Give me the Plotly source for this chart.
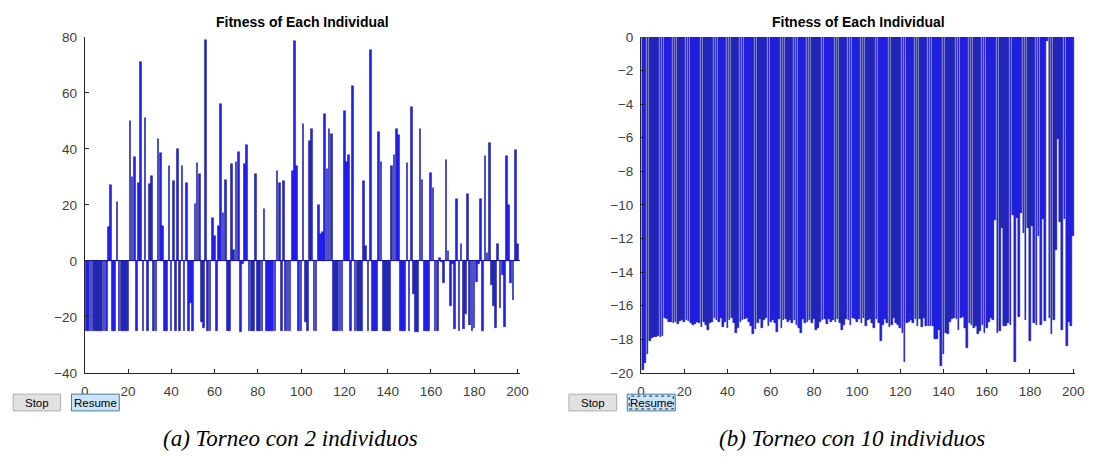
import plotly.graph_objects as go

W, H = 1098, 467

individuals = list(range(1, 201))

fitness_2 = [
    -25.2, -25.1, -25.2, -25.0, -25.2, -25.1, -25.2, -25.0, -25.1, -25.2,
    12, 27, -25, -25, 21, -25, -25, -25, -25, -25,
    50, 30, 37, -25, 28, 71, -25, 51, -25, 27.5,
    30.5, -25, -25, 43.5, 38.5, 12.5, -25, -25, 34, -25,
    28.5, -25, 40, -25, 34, -25, 28, -25, -15, -25,
    20.5, 35, 31, -22, -24, 79, -25, -25, 15.5, 9,
    -25, 12.5, 56, 17, 29, -25, -25, 34.5, 4, 35.5,
    39, -25.5, -1, 34.5, 41.5, -25, -25, -25, 31, -25,
    -25, -25, 18.5, -25, -25, -25, -25, -25, 32, 28,
    -25, 28.5, -25, -25, -25, 32, 78.5, 34, -25, -25,
    49, -22, -25, 43, 47, -25, -25, 20, 9.5, 10.5,
    52.5, 33, 47, 45.5, -25, -25, -25, -25, -25, 53.5,
    35.5, 38, -25, 62.5, -25, -25, -25, -25, 28.5, 5.5,
    -25, 75.5, -25, -25, -25, 46, 35.5, -25, -25, -25,
    -25, 34, 38, 47, 45, -25, -25, -25, 35, -25,
    55, -12, -25.5, -25.5, 47, 29, -25, -25, -25, 31.5,
    26, -25, -25, 1, -0.5, -8, 36, 3.5, -16, -1,
    -24.5, 22, -25, 6, -24.5, -19, 24, -23, -25, -24,
    -7.5, -1, 22, -25, 37.5, 3, 42, -8.5, -16, -24,
    6, -17, -5, -23.5, 37.5, 20, -8, -14, 39.5, 6,
]

fitness_10 = [
    -19.8, -19.4, -18.9, -18.1, -17.9, -17.85, -17.85, -17.8, -17.85, -17.8,
    -16.75, -16.8, -17.0, -16.95, -17.05, -16.95, -17.1, -16.9, -16.85, -16.95,
    -16.85, -16.9, -17.05, -17.15, -17.1, -16.95, -17.05, -17.25, -17.0, -17.15,
    -17.45, -17.05, -16.95, -16.75, -16.85, -16.95, -16.75, -17.25, -16.95, -17.35,
    -16.85, -16.75, -17.05, -17.6, -17.35, -16.95, -16.85, -16.8, -16.75, -16.99,
    -17.23, -17.71, -17.39, -17.04, -16.81, -17.33, -16.85, -16.75, -17.23, -16.95,
    -16.85, -17.04, -17.58, -16.81, -17.33, -16.85, -16.81, -16.95, -16.85, -17.04,
    -16.85, -17.14, -17.33, -17.62, -16.81, -17.04, -16.95, -16.85, -17.04, -16.81,
    -17.43, -17.33, -16.95, -16.85, -16.81, -17.08, -16.81, -16.99, -16.85, -16.95,
    -16.81, -17.04, -17.43, -17.14, -16.81, -16.85, -17.14, -16.75, -16.81, -16.99,
    -16.81, -17.04, -16.75, -17.23, -16.85, -16.81, -17.04, -17.33, -16.81, -17.04,
    -18.1, -17.14, -16.81, -17.04, -17.27, -17.14, -16.75, -17.04, -17.14, -17.33,
    -17.62, -19.35, -17.04, -16.95, -16.85, -17.04, -16.81, -17.23, -16.81, -17.27,
    -16.75, -17.23, -17.19, -17.23, -17.19, -18.0, -18.0, -17.43, -19.6, -18.87,
    -17.62, -17.66, -16.95, -16.81, -16.75, -16.81, -17.43, -16.75, -16.7, -17.33,
    -18.5, -17.04, -17.14, -17.33, -17.23, -17.71, -17.52, -17.14, -17.62, -17.33,
    -16.95, -16.76, -16.85, -10.9, -17.62, -17.52, -11.37, -17.23, -17.23, -17.04,
    -17.14, -10.57, -19.35, -10.76, -16.66, -10.51, -11.66, -16.85, -11.37, -18.1,
    -11.28, -17.04, -17.14, -11.85, -17.14, -10.85, -16.9, -0.25, -16.75, -17.71,
    -16.85, -12.7, -6.1, -10.99, -17.43, -10.85, -18.39, -16.95, -17.23, -11.85,
]

x_ticks = [0, 20, 40, 60, 80, 100, 120, 140, 160, 180, 200]
y_ticks_left = [-40, -20, 0, 20, 40, 60, 80]
y_ticks_right = [-20, -18, -16, -14, -12, -10, -8, -6, -4, -2, 0]
plot_title = "Fitness of Each Individual"
captions = ["(a) Torneo con 2 individuos", "(b) Torneo con 10 individuos"]


def px(x):
    return x / W


def py(y):
    return 1 - y / H


BAR_FILL = "#2222ee"
BAR_EDGE = "#10108a"
AX = "#262626"
TICKFONT = dict(family="Liberation Sans, Arial, sans-serif", size=13.5, color="#404040")

fig = go.Figure()
fig.add_trace(go.Bar(x=individuals, y=fitness_2, width=0.8, xaxis="x", yaxis="y",
                     marker=dict(color=BAR_FILL, line=dict(color=BAR_EDGE, width=0.5)),
                     showlegend=False))
fig.add_trace(go.Bar(x=individuals, y=fitness_10, width=0.8, xaxis="x2", yaxis="y2",
                     marker=dict(color=BAR_FILL, line=dict(color=BAR_EDGE, width=0.5)),
                     showlegend=False))

y_dom = [py(378), py(31)]
axis_common = dict(showgrid=False, showline=True, linecolor=AX, linewidth=1,
                   ticks="inside", ticklen=4, tickcolor=AX, tickwidth=1,
                   tickfont=TICKFONT, mirror=False, fixedrange=True)

fig.update_layout(
    width=W, height=H,
    margin=dict(l=0, r=0, t=0, b=0),
    paper_bgcolor="white", plot_bgcolor="white",
    bargap=0,
    xaxis=dict(domain=[px(81.7), px(521.9)], range=[0, 201], tickvals=x_ticks,
               zeroline=False, anchor="y", ticklabelstandoff=6, **axis_common),
    yaxis=dict(domain=y_dom, range=[-40, 80], tickvals=y_ticks_left,
               zeroline=True, zerolinecolor="#1c1c90", zerolinewidth=1,
               anchor="x", ticklabelstandoff=4, **axis_common),
    xaxis2=dict(domain=[px(644.7), px(1084.2)], range=[0, 201], tickvals=x_ticks,
                zeroline=False, anchor="y2", ticklabelstandoff=6, **axis_common),
    yaxis2=dict(domain=y_dom, range=[-20, 0], tickvals=y_ticks_right,
                zeroline=False, anchor="x2", ticklabelstandoff=4, **axis_common),
)

annotations = []
for cx in [(81.7 + 521.9) / 2, (644.7 + 1084.2) / 2]:
    annotations.append(dict(x=px(cx), y=py(16), xref="paper", yref="paper",
                            text="<b>" + plot_title + "</b>", showarrow=False,
                            xanchor="center", yanchor="middle",
                            font=dict(family="Liberation Sans, Arial, sans-serif",
                                      size=14, color="#000000")))

for cx, cap in zip([290, 858], captions):
    annotations.append(dict(x=px(cx), y=py(446), xref="paper", yref="paper",
                            text="<i>" + cap + "</i>", showarrow=False,
                            xanchor="center", yanchor="middle",
                            font=dict(family="Liberation Serif, serif", size=23,
                                      color="#000000")))

shapes = []
buttons = [
    (9.3, 57.3, "Stop", "#e1e1e1", "#adadad", None),
    (68.3, 116.7, "Resume", "#cce4f7", "#3c7fb1", None),
    (571.7, 620.0, "Stop", "#e1e1e1", "#adadad", None),
    (630.7, 679.3, "Resume", "#cce4f7", "#3c7fb1", "dot"),
]
for x0, x1, lab, fill, edge, dash in buttons:
    shapes.append(dict(type="rect", xref="paper", yref="paper",
                       x0=px(x0), x1=px(x1), y0=py(417.3), y1=py(400),
                       fillcolor=fill, line=dict(color=edge, width=1), layer="above"))
    if dash:
        shapes.append(dict(type="rect", xref="paper", yref="paper",
                           x0=px(x0 + 2), x1=px(x1 - 2), y0=py(415.3), y1=py(402),
                           fillcolor="rgba(0,0,0,0)",
                           line=dict(color="#222222", width=1, dash="dot"), layer="above"))
    annotations.append(dict(x=px((x0 + x1) / 2), y=py(409), xref="paper", yref="paper",
                            text=lab, showarrow=False, xanchor="center", yanchor="middle",
                            font=dict(family="Liberation Sans, Arial, sans-serif",
                                      size=11.5, color="#000000")))

fig.update_layout(annotations=annotations, shapes=shapes)

fig.write_html("out.html", config={"displayModeBar": False})
